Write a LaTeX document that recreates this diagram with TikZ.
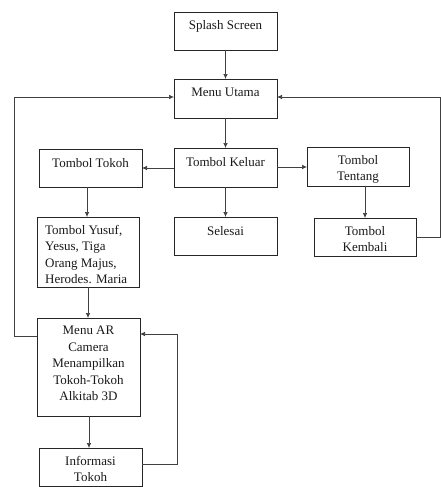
\documentclass[tikz,border=0pt]{standalone}
\usepackage{fontspec}
\setmainfont{Liberation Serif}
\usetikzlibrary{arrows.meta}
\newcommand\mkbox[5]{\node[box, minimum width={(#4-#2)*1pt}, minimum height={(#5-#3)*1pt}] (#1) at ({(#2+#4)/2},{(#3+#5)/2}) {};}
\begin{document}
\begin{tikzpicture}[x=1pt,y=-1pt,
  box/.style={draw=black!85, line width=0.7pt, inner sep=0pt, outer sep=0pt},
  txt/.style={font=\fontsize{13}{16.5}\selectfont, inner sep=0pt, align=center, text=black!90},
  conn/.style={draw=black!75, line width=0.7pt},
  arr/.style={conn, -{Latex[length=5pt,width=4.5pt]}}]
\useasboundingbox (0,0) rectangle (441,487);
\mkbox{splash}{174}{12}{277}{50}
\mkbox{menu}{174}{79}{277}{118}
\mkbox{tokoh}{39}{149}{142}{187}
\mkbox{keluar}{174}{148}{277}{187}
\mkbox{tentang}{307}{147}{409}{186}
\mkbox{yusuf}{37}{217}{139}{287}
\mkbox{selesai}{174}{217}{277}{255}
\mkbox{kembali}{314}{218}{416}{256}
\mkbox{ar}{37}{318}{140}{416}
\mkbox{info}{39}{448}{142}{486}
\node[txt, anchor=north] at ([yshift=-8pt]splash.north) {Splash Screen};
\node[txt, anchor=north] at ([yshift=-9pt]menu.north) {Menu Utama};
\node[txt, anchor=north] at ([yshift=-9pt]tokoh.north) {Tombol Tokoh};
\node[txt, anchor=north] at ([yshift=-9pt]keluar.north) {Tombol Keluar};
\node[txt, anchor=north] at ([yshift=-8pt]tentang.north) {Tombol\\Tentang};
\node[txt, anchor=north west, align=left] at ([xshift=8pt,yshift=-8pt]yusuf.north west) {Tombol Yusuf,\\Yesus, Tiga\\Orang Majus,\\Herodes. Maria};
\node[txt, anchor=north] at ([yshift=-9pt]selesai.north) {Selesai};
\node[txt, anchor=north] at ([yshift=-8pt]kembali.north) {Tombol\\Kembali};
\node[txt, anchor=north] at ([yshift=-8pt]ar.north) {Menu AR\\Camera\\Menampilkan\\Tokoh-Tokoh\\Alkitab 3D};
\node[txt, anchor=north] at ([yshift=-8pt]info.north) {Informasi\\Tokoh};
\coordinate (ll) at (14,97);
\coordinate (rr) at (440,97);
\coordinate (lr) at (177,334);
\draw[arr] (splash.south) -- (menu.north);
\draw[arr] (menu.south) -- (keluar.north);
\draw[arr] (keluar.west |- 0,168) -- (tokoh.east |- 0,168);
\draw[arr] (keluar.east |- 0,167) -- (tentang.west |- 0,167);
\draw[arr] (keluar.south) -- (selesai.north);
\draw[arr] (tentang.south -| 365,0) -- (kembali.north -| 365,0);
\draw[arr] (tokoh.south -| 87,0) -- (yusuf.north -| 87,0);
\draw[arr] (yusuf.south -| 88,0) -- (ar.north -| 88,0);
\draw[arr] (ar.south -| 89,0) -- (info.north -| 89,0);
\draw[arr] (ar.west |- 0,336) -| (ll) -- (menu.west |- ll);
\draw[arr] (kembali.east |- 0,237) -| (rr) -- (menu.east |- rr);
\draw[arr] (info.east |- 0,464) -| (lr) -- (ar.east |- lr);
\end{tikzpicture}
\end{document}
